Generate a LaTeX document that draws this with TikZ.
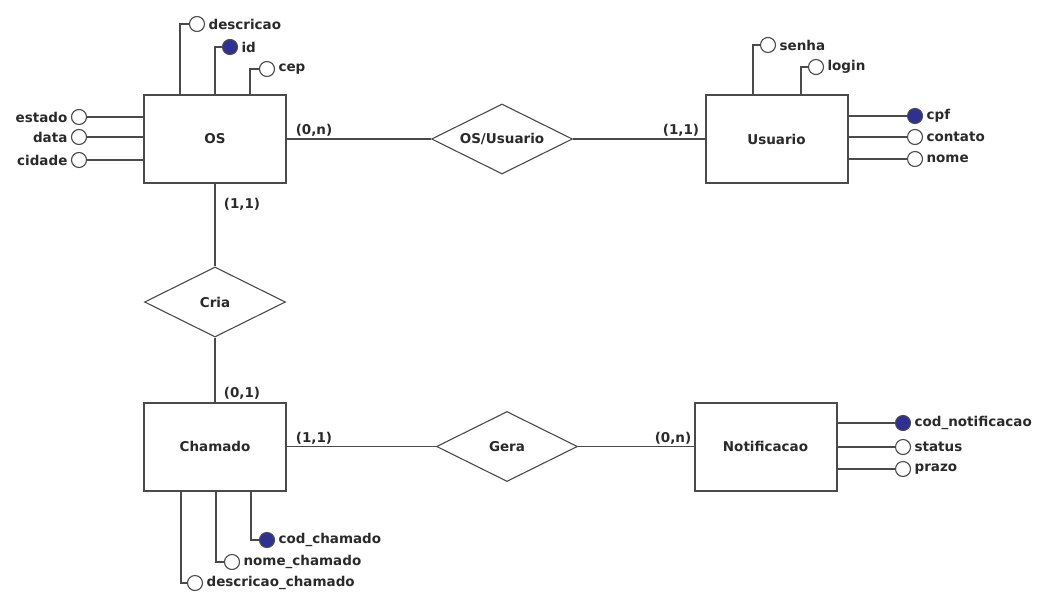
\documentclass[tikz,border=0pt]{standalone}
\usepackage{fontspec}
\setmainfont{DejaVu Sans}
\usetikzlibrary{shapes.geometric}
\pgfdeclarelayer{bg}
\pgfsetlayers{bg,main}
\definecolor{ln}{HTML}{4A4A4A}
\definecolor{tx}{HTML}{2A2A2A}
\definecolor{pk}{HTML}{2E3192}
\begin{document}
\begin{tikzpicture}[x=1pt,y=-1pt,
  font=\fontsize{13.5}{15}\selectfont\bfseries, text=tx,
  entity/.style={draw=ln, line width=2pt, fill=white, minimum width=142pt, minimum height=88pt, inner sep=0pt},
  rel/.style={draw=ln, line width=1.1pt, diamond, aspect=2, minimum width=141pt, minimum height=70pt, inner sep=0pt, fill=white},
  attr/.style={circle, draw=ln, line width=1.1pt, fill=white, minimum size=15pt, inner sep=0pt},
  key/.style={attr, fill=pk},
  lr/.style={label={[label distance=0pt]right:#1}},
  ll/.style={label={[label distance=0pt]left:#1}},
  conn/.style={draw=ln, line width=1.4pt},
  card/.style={inner sep=0pt}
]
\useasboundingbox (0,0) rectangle (1049,592);

% entities
\node[entity] (OS) at (215,139) {OS};
\node[entity] (Usuario) at (776.5,139) {Usuario};
\node[entity] (Chamado) at (215,446.5) {Chamado};
\node[entity] (Notificacao) at (765.5,446.5) {Notificacao};

% relationships
\node[rel] (OSUs) at (502,139) {OS/Usuario};
\node[rel] (Cria) at (215,302) {Cria};
\node[rel] (Gera) at (507,446.5) {Gera};

% OS attributes
\node[attr, lr=descricao] (descricao) at (197,24) {};
\node[key, lr=id] (id) at (230,47) {};
\node[attr, lr=cep] (cep) at (267,69) {};
\node[attr, ll=estado] (estado) at (79,117) {};
\node[attr, ll=data] (data) at (79,137) {};
\node[attr, ll=cidade] (cidade) at (79,160) {};

% Usuario attributes
\node[attr, lr=senha] (senha) at (768,45) {};
\node[attr, lr=login] (login) at (816,67) {};
\node[key, lr=cpf] (cpf) at (915,116) {};
\node[attr, lr=contato] (contato) at (915,137) {};
\node[attr, lr=nome] (nome) at (915,159) {};

% Chamado attributes
\node[key, lr=cod\_chamado] (codch) at (267,540) {};
\node[attr, lr=nome\_chamado] (nomech) at (232,562) {};
\node[attr, lr=descricao\_chamado] (descch) at (195,583) {};

% Notificacao attributes
\node[key, lr=cod\_notificacao] (codnot) at (903,423) {};
\node[attr, lr=status] (status) at (903,447) {};
\node[attr, lr=prazo] (prazo) at (903,469) {};

\begin{pgfonlayer}{bg}
% attribute connectors
\draw[conn] ([xshift=-35pt]OS.north) |- (descricao);
\draw[conn] (OS.north) |- (id);
\draw[conn] ([xshift=35pt]OS.north) |- (cep);
\draw[conn] (OS.west |- estado) -- (estado);
\draw[conn] (OS.west |- data) -- (data);
\draw[conn] (OS.west |- cidade) -- (cidade);

\draw[conn] ([xshift=-23.5pt]Usuario.north) |- (senha);
\draw[conn] ([xshift=24.5pt]Usuario.north) |- (login);
\draw[conn] (Usuario.east |- cpf) -- (cpf);
\draw[conn] (Usuario.east |- contato) -- (contato);
\draw[conn] (Usuario.east |- nome) -- (nome);

\draw[conn] ([xshift=36pt]Chamado.south) |- (codch);
\draw[conn] ([xshift=1pt]Chamado.south) |- (nomech);
\draw[conn] ([xshift=-34pt]Chamado.south) |- (descch);

\draw[conn] (Notificacao.east |- codnot) -- (codnot);
\draw[conn] (Notificacao.east |- status) -- (status);
\draw[conn] (Notificacao.east |- prazo) -- (prazo);

% relationship connectors
\draw[conn] (OS) -- (OSUs) -- (Usuario);
\draw[conn] (OS) -- (Cria) -- (Chamado);
\draw[conn] (Chamado) -- (Gera) -- (Notificacao);
\end{pgfonlayer}

% cardinalities
\node[card] (c1) at (314,130) {(0,n)};
\node[card] (c2) at (681,130) {(1,1)};
\node[card] (c3) at (242,204) {(1,1)};
\node[card] (c4) at (242,393) {(0,1)};
\node[card] (c5) at (314,438) {(1,1)};
\node[card] (c6) at (673,438) {(0,n)};
\end{tikzpicture}
\end{document}
